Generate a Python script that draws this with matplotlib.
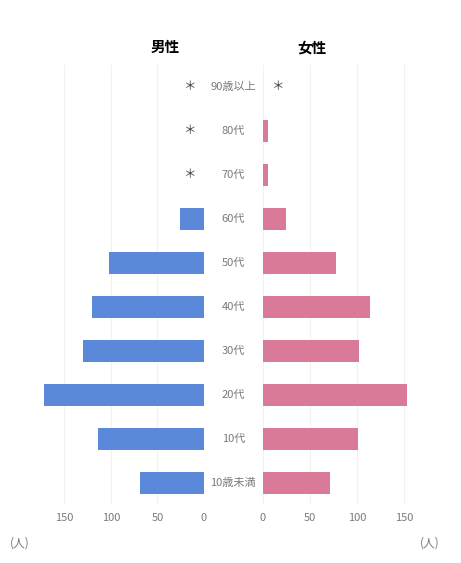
import numpy as np
import matplotlib.pyplot as plt

plt.rcParams['font.family'] = ['Noto Sans CJK JP', 'DejaVu Sans']

# Data; None = masked (*)
ages = ['90歳以上', '80代', '70代', '60代', '50代', '40代', '30代', '20代', '10代', '10歳未満']
male = [None, None, None, 26, 102, 120, 130, 172, 114, 69]
female = [None, 5, 5, 24, 78, 114, 102, 153, 101, 71]
ticks = [0, 50, 100, 150]

blue = '#5b89d9'
pink = '#d97a98'
grid_c = '#f4f1ec'
text_c = '#7a7a7a'

fig = plt.figure(figsize=(4.61, 5.63), dpi=100)
ax_l = fig.add_axes([0.089, 0.103, 0.3535, 0.782])
ax_r = fig.add_axes([0.5705, 0.103, 0.357, 0.782])

y = np.arange(len(ages))
mv = [v if v is not None else 0 for v in male]
fv = [v if v is not None else 0 for v in female]

ax_l.barh(y, mv, height=0.5, color=blue, zorder=3)
ax_r.barh(y, fv, height=0.5, color=pink, zorder=3)

ax_l.set_xlim(175, 0)
ax_r.set_xlim(0, 175)

for ax in (ax_l, ax_r):
    ax.set_ylim(len(ages) - 0.5, -0.5)
    ax.set_xticks(ticks)
    ax.set_xticklabels([str(t) for t in ticks], fontsize=8, color=text_c)
    ax.set_yticks([])
    ax.tick_params(axis='x', length=0, pad=6)
    for s in ax.spines.values():
        s.set_visible(False)
    ax.grid(axis='x', color=grid_c, linewidth=0.8, zorder=0)

# asterisks for masked values
for i, v in enumerate(male):
    if v is None:
        ax_l.text(16, i, '＊', ha='center', va='center', fontsize=9, color='#444444')
for i, v in enumerate(female):
    if v is None:
        ax_r.text(15, i, '＊', ha='center', va='center', fontsize=9, color='#444444')

# category labels in the middle
for i, a in enumerate(ages):
    fig.text(0.506, 0.885 - (i + 0.5) * 0.0782, a, ha='center', va='center',
             fontsize=8, color=text_c)

fig.text(0.358, 0.916, '男性', ha='center', va='center', fontsize=10.5, fontweight='bold')
fig.text(0.677, 0.916, '女性', ha='center', va='center', fontsize=10.5, fontweight='bold')

fig.text(0.043, 0.036, '(人)', ha='center', va='center', fontsize=8.5, color=text_c)
fig.text(0.933, 0.036, '(人)', ha='center', va='center', fontsize=8.5, color=text_c)

fig.savefig('out.png', dpi=100, facecolor='white')
